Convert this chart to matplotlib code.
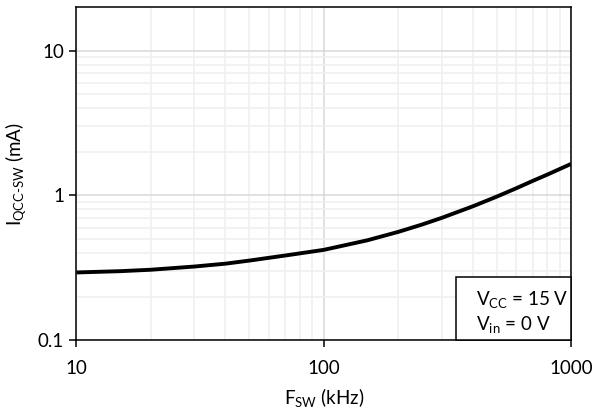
import matplotlib.pyplot as plt
from matplotlib.patches import Rectangle
from matplotlib.ticker import FixedLocator, FixedFormatter, LogLocator, NullFormatter

plt.rcParams['font.family'] = ['Lato', 'DejaVu Sans']
plt.rcParams['mathtext.fontset'] = 'custom'
plt.rcParams['mathtext.rm'] = 'Lato'

# 読み取ったデータ
freq_khz = [10, 15, 20, 30, 40, 50, 70, 100, 150, 200, 250, 300, 400, 500, 600, 700, 800, 1000]
iqcc_ma = [0.294, 0.30, 0.307, 0.323, 0.338, 0.355, 0.385, 0.421, 0.49, 0.56, 0.63, 0.70,
           0.84, 0.98, 1.12, 1.26, 1.39, 1.65]

x_ticks = [10, 100, 1000]
x_tick_labels = ["10", "100", "1000"]
y_ticks = [0.1, 1, 10]
y_tick_labels = ["0.1", "1", "10"]

FS = 13.5

fig = plt.figure(figsize=(6.05, 4.18), dpi=100)
ax = fig.add_axes([0.1264, 0.1859, 0.8174, 0.7974])

ax.set_xscale("log")
ax.set_yscale("log")
ax.set_xlim(10, 1000)
ax.set_ylim(0.1, 20)

ax.xaxis.set_major_locator(FixedLocator(x_ticks))
ax.xaxis.set_major_formatter(FixedFormatter(x_tick_labels))
ax.yaxis.set_major_locator(FixedLocator(y_ticks))
ax.yaxis.set_major_formatter(FixedFormatter(y_tick_labels))
ax.xaxis.set_minor_locator(LogLocator(base=10, subs=range(2, 10)))
ax.yaxis.set_minor_locator(LogLocator(base=10, subs=range(2, 10)))
ax.xaxis.set_minor_formatter(NullFormatter())
ax.yaxis.set_minor_formatter(NullFormatter())

ax.grid(which="minor", color="#efefef", linewidth=1.1)
ax.grid(which="major", color="#d9d9d9", linewidth=1.1)
ax.set_axisbelow(True)

ax.tick_params(which="major", direction="out", length=5, width=1.1, labelsize=FS, color="black")
ax.tick_params(axis="x", which="major", pad=9)
ax.tick_params(axis="y", which="major", pad=4)
ax.tick_params(which="minor", length=0)

for s in ax.spines.values():
    s.set_linewidth(1.1)
    s.set_color("black")

ax.plot(freq_khz, iqcc_ma, color="black", linewidth=2.8, solid_capstyle="butt", zorder=3)

ax.set_xlabel(r"F$_\mathregular{SW}$ (kHz)", fontsize=FS, labelpad=7)
ax.set_ylabel(r"I$_\mathregular{QCC\text{-}SW}$ (mA)", fontsize=FS, labelpad=6)

# 条件ボックス
box = Rectangle((0.767, 0.0), 0.233, 0.191, transform=ax.transAxes,
                facecolor="white", edgecolor="black", linewidth=1.1, zorder=4, clip_on=False)
ax.add_patch(box)
ax.text(0.808, 0.12, r"V$_\mathregular{CC}$ = 15 V", transform=ax.transAxes,
        fontsize=FS, va="center", ha="left", zorder=5)
ax.text(0.808, 0.045, r"V$_\mathregular{in}$ = 0 V", transform=ax.transAxes,
        fontsize=FS, va="center", ha="left", zorder=5)

fig.savefig("out.png", dpi=100)
